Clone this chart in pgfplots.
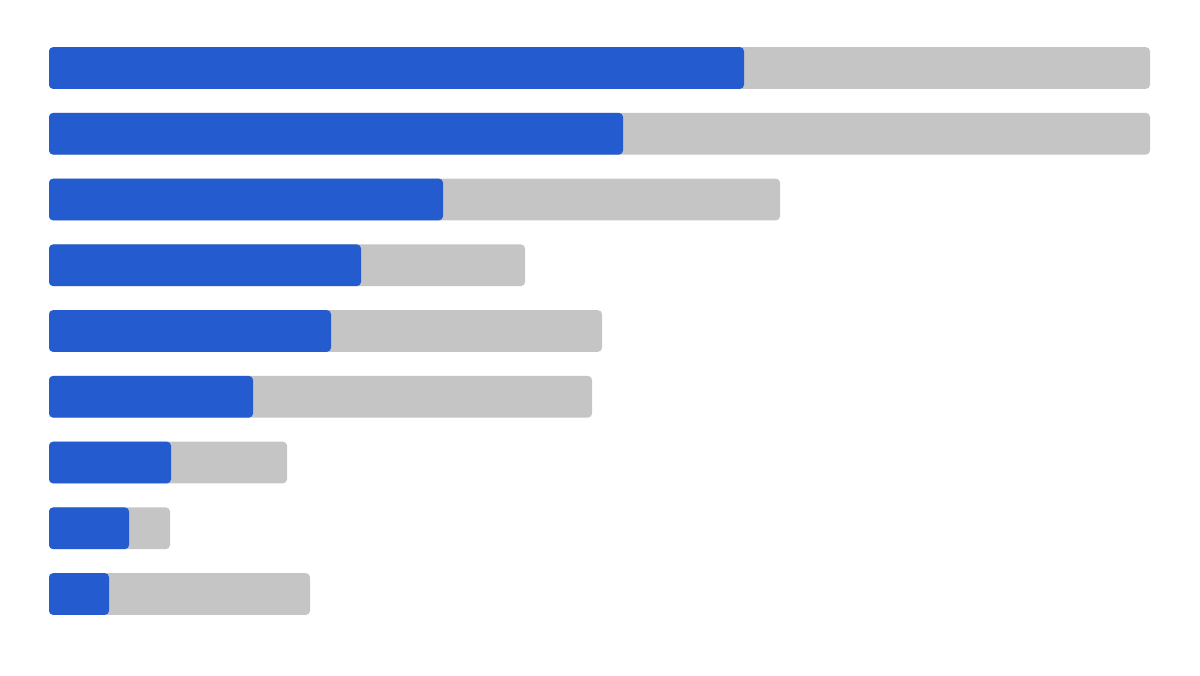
\documentclass[border=0pt]{standalone}
\usepackage{pgfplots}
\pgfplotsset{compat=1.18}
\definecolor{barblue}{HTML}{245BCF}
\definecolor{bargrey}{HTML}{C5C5C5}
\begin{document}
\begin{tikzpicture}
\begin{axis}[
  scale only axis, width=1200bp, height=675bp,
  xmin=-49, xmax=1151,
  ymin=-0.0342, ymax=10.232, y dir=reverse,
  hide axis, clip=false,
  xbar, bar width=0.633, bar shift=0pt,
]
\path[use as bounding box] (rel axis cs:0,0) rectangle (rel axis cs:1,1);
\addplot[draw=none, fill=bargrey, rounded corners=4bp] coordinates {
 (1101,1) (1101,2) (731,3) (476,4) (553,5) (543,6) (238,7) (121,8) (261,9)};
\addplot[draw=none, fill=barblue, rounded corners=4bp] coordinates {
 (695,1) (574,2) (394,3) (312,4) (282,5) (204,6) (122,7) (80,8) (60,9)};
\end{axis}
\end{tikzpicture}
\end{document}
